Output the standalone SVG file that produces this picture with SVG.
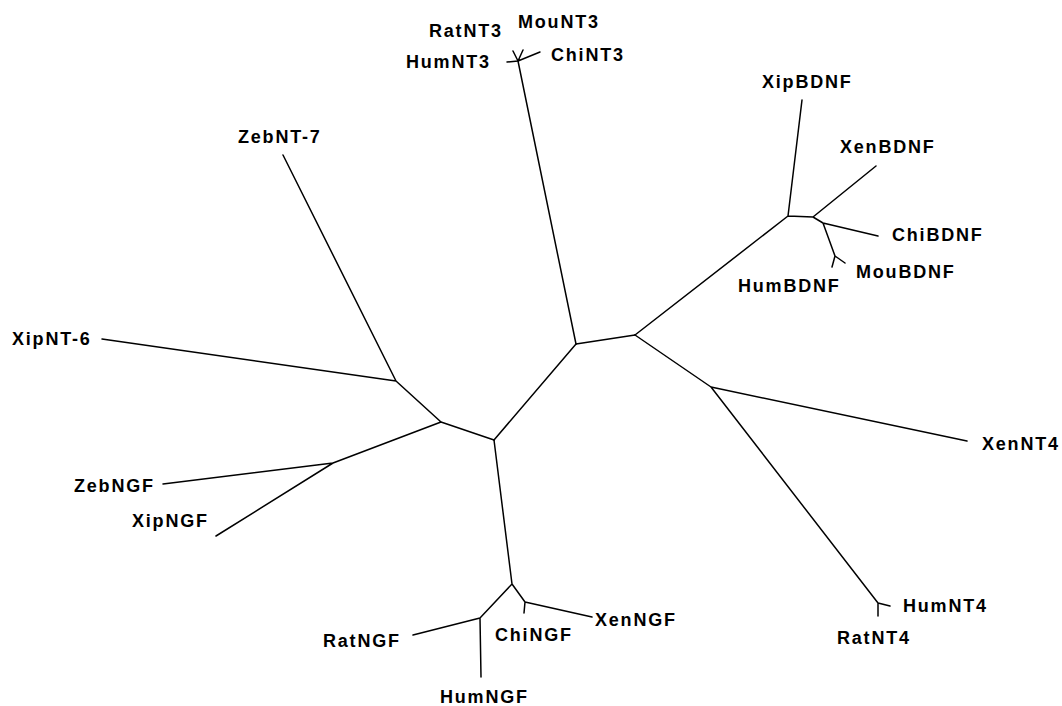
<svg xmlns="http://www.w3.org/2000/svg" width="1062" height="706" viewBox="0 0 1062 706">
<style>
.e{stroke:#000;stroke-width:1.5;fill:none;stroke-linecap:round;stroke-linejoin:round}
.t{font-family:"Liberation Sans",Arial,sans-serif;font-weight:bold;font-size:18px;letter-spacing:1.8px;fill:#000}
</style>
<rect width="1062" height="706" fill="#fff"/>
<g id="connectors">
<path class="e" d="M576,344 L635,335"/>
<path class="e" d="M576,344 L494,440"/>
<path class="e" d="M576,344 L518,61"/>
<path class="e" d="M518,61 L507,62 M518,61 L513,51 M518,61 L523,50 M518,61 L540,52"/>
<path class="e" d="M635,335 L788,216 L813,217 M788,216 L802,100 M813,217 L876,166 M813,217 L823,223 L878,236 M823,223 L835,256 L832,267 M835,256 L845,263"/>
<path class="e" d="M635,335 L711,387 L967,441 M711,387 L878,603 L890,606 M878,603 L878,616"/>
<path class="e" d="M494,440 L441,422 L396,381 L283,155 M396,381 L102,339 M441,422 L333,463 L163,484 M333,463 L216,536"/>
<path class="e" d="M494,440 L512,584 L480,618 L413,635 M480,618 L481,677 M512,584 L525,602 L524,613 M525,602 L592,617"/>
</g>
<g id="RatNT3"><text class="t" x="429" y="37">RatNT3</text></g>
<g id="MouNT3"><text class="t" x="518" y="28">MouNT3</text></g>
<g id="HumNT3"><text class="t" x="406" y="68">HumNT3</text></g>
<g id="ChiNT3"><text class="t" x="551" y="61">ChiNT3</text></g>
<g id="ZebNT-7"><text class="t" x="238" y="143">ZebNT-7</text></g>
<g id="XipNT-6"><text class="t" x="12" y="345">XipNT-6</text></g>
<g id="ZebNGF"><text class="t" x="74" y="492">ZebNGF</text></g>
<g id="XipNGF"><text class="t" x="132" y="527">XipNGF</text></g>
<g id="RatNGF"><text class="t" x="323" y="647">RatNGF</text></g>
<g id="HumNGF"><text class="t" x="440" y="703">HumNGF</text></g>
<g id="ChiNGF"><text class="t" x="495" y="641">ChiNGF</text></g>
<g id="XenNGF"><text class="t" x="595" y="626">XenNGF</text></g>
<g id="XipBDNF"><text class="t" x="762" y="88">XipBDNF</text></g>
<g id="XenBDNF"><text class="t" x="840" y="153">XenBDNF</text></g>
<g id="ChiBDNF"><text class="t" x="892" y="241">ChiBDNF</text></g>
<g id="MouBDNF"><text class="t" x="856" y="278">MouBDNF</text></g>
<g id="HumBDNF"><text class="t" x="738" y="292">HumBDNF</text></g>
<g id="XenNT4"><text class="t" x="982" y="450">XenNT4</text></g>
<g id="HumNT4"><text class="t" x="903" y="612">HumNT4</text></g>
<g id="RatNT4"><text class="t" x="837" y="644">RatNT4</text></g>
</svg>
